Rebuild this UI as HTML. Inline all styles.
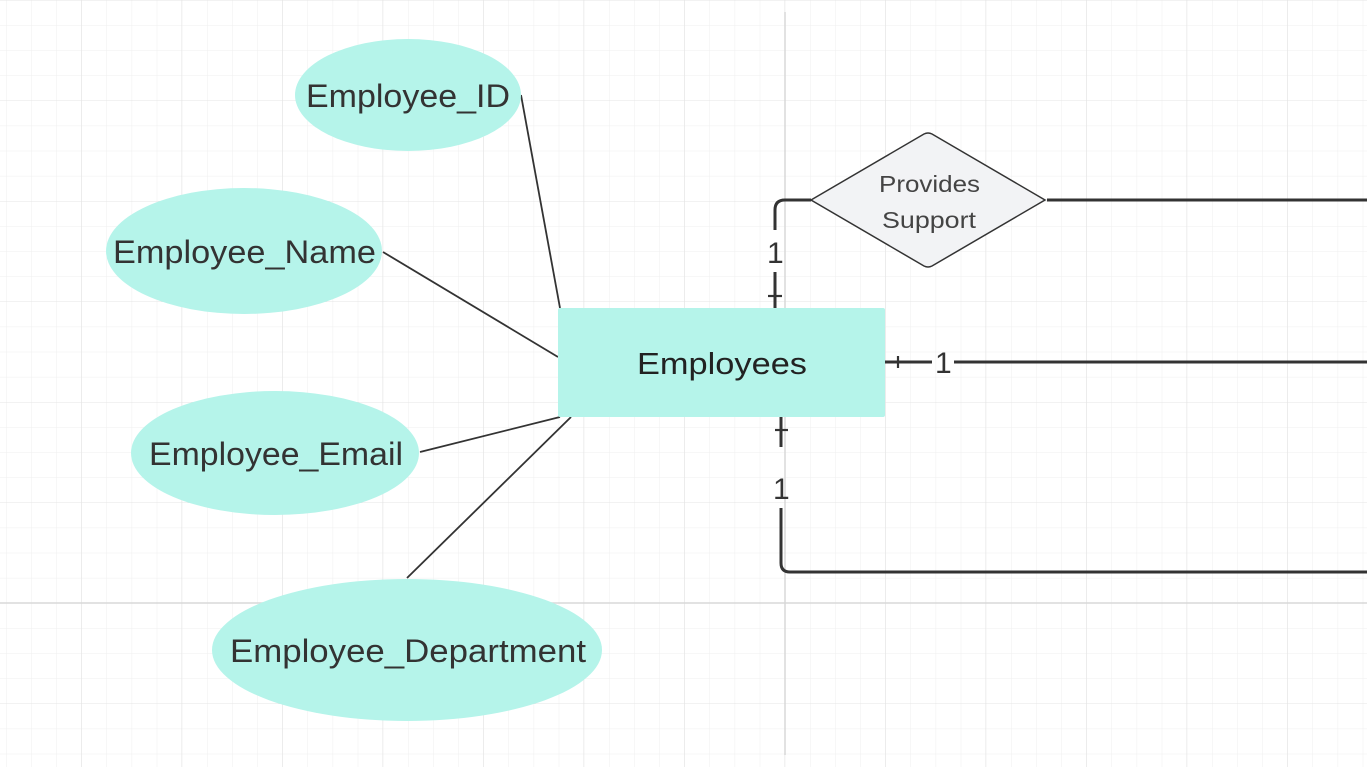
<!DOCTYPE html>
<html><head><meta charset="utf-8"><style>
html,body{margin:0;padding:0;background:#fff;}
svg{display:block;}
text{font-family:"Liberation Sans",sans-serif;fill:#333;}
</style></head><body>
<svg width="1367" height="767" viewBox="0 0 1367 767" xmlns="http://www.w3.org/2000/svg">
<defs>
<pattern id="minor" x="6" y="0" width="25.125" height="25.125" patternUnits="userSpaceOnUse">
<path d="M0 0V25.125M0 0H25.125" stroke="#efefef" stroke-width="1" fill="none"/>
</pattern>
<pattern id="major" x="81" y="0" width="100.5" height="100.5" patternUnits="userSpaceOnUse">
<path d="M0 0V100.5M0 0H100.5" stroke="#e4e4e4" stroke-width="1" fill="none"/>
</pattern>
</defs>
<rect width="1367" height="767" fill="url(#minor)"/>
<rect width="1367" height="767" fill="url(#major)"/>
<line x1="785" y1="12" x2="785" y2="755" stroke="#d8d8d8" stroke-width="1.5"/>
<line x1="0" y1="603" x2="1367" y2="603" stroke="#d8d8d8" stroke-width="1.5"/>

<g stroke="#333" stroke-width="1.8">
<line x1="521" y1="95" x2="560" y2="308"/>
<line x1="383" y1="252" x2="558" y2="357"/>
<line x1="420" y1="452" x2="560" y2="417"/>
<line x1="407" y1="578" x2="571" y2="417"/>
</g>

<g fill="#b5f4ea">
<ellipse cx="408" cy="95" rx="113" ry="56"/>
<ellipse cx="244" cy="251" rx="138" ry="63"/>
<ellipse cx="275" cy="453" rx="144" ry="62"/>
<ellipse cx="407" cy="650" rx="195" ry="71"/>
</g>
<text x="306" y="107" font-size="32" textLength="204" lengthAdjust="spacingAndGlyphs">Employee_ID</text>
<text x="113" y="263" font-size="32" textLength="263" lengthAdjust="spacingAndGlyphs">Employee_Name</text>
<text x="149" y="465" font-size="32" textLength="254" lengthAdjust="spacingAndGlyphs">Employee_Email</text>
<text x="230" y="662" font-size="32" textLength="356" lengthAdjust="spacingAndGlyphs">Employee_Department</text>

<rect x="558" y="308" width="327" height="109" rx="2" fill="#b5f4ea"/>
<text x="637" y="374" font-size="31" textLength="170" lengthAdjust="spacingAndGlyphs" style="fill:#222">Employees</text>

<g stroke="#333" stroke-width="3" fill="none">
<path d="M775 308V272M775 230V210Q775 200 785 200H811"/>
<line x1="768" y1="296" x2="782" y2="296" stroke-width="2.2"/>
<line x1="1047" y1="200" x2="1367" y2="200"/>
<path d="M885 362H932M954 362H1367"/>
<line x1="898" y1="356" x2="898" y2="368" stroke-width="2.2"/>
<path d="M781 417V447M781 508V563Q781 572 790 572H1367"/>
<line x1="775" y1="430" x2="788" y2="430" stroke-width="2.2"/>
</g>
<text x="767" y="263" font-size="30">1</text>
<text x="935" y="373" font-size="30">1</text>
<text x="773" y="499" font-size="30">1</text>

<path d="M811 200L924 134Q928 132 932 134L1045 200L932 266Q928 268 924 266Z" fill="#f2f3f5" stroke="#333" stroke-width="1.5"/>
<text x="879" y="192" font-size="23" textLength="101" lengthAdjust="spacingAndGlyphs" style="fill:#444">Provides</text>
<text x="882" y="228" font-size="23" textLength="94" lengthAdjust="spacingAndGlyphs" style="fill:#444">Support</text>
</svg>
</body></html>
